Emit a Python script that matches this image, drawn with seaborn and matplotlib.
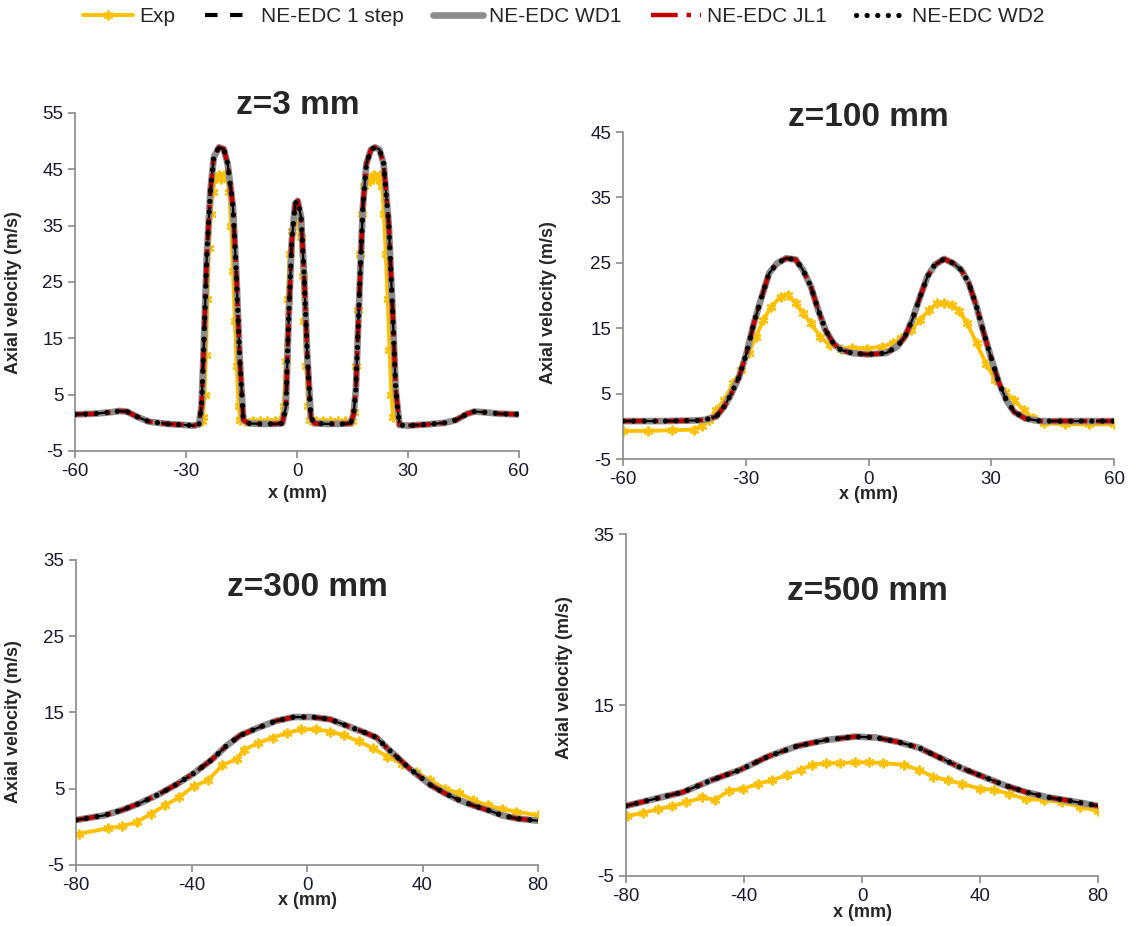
import numpy as np
import pandas as pd
import seaborn as sns
import matplotlib.pyplot as plt
from matplotlib.lines import Line2D

# ====================== данные ====================== #
# z = 3 mm
x3_sim = [-60, -55, -50, -48, -46, -43, -40, -35, -30, -28, -26.5, -25.8, -25.3, -24.4,
          -23.4, -22.5, -21.1, -19.8, -18.75, -17.3, -16.4, -15.5, -14.5, -13.1, -10, -6,
          -4, -3, -2.3, -1.4, -0.5, 0.2, 1.1, 1.9, 2.8, 3.75, 4.7, 8, 12, 14.5, 15.3, 15.9,
          16.9, 17.8, 18.75, 20, 21.1, 22.3, 23.4, 24.8, 25.8, 26.7, 27.7, 30, 35, 40, 43,
          46, 48, 50, 55, 60]
v3_sim = [1.5, 1.6, 1.9, 2.1, 2.0, 1.0, 0.2, -0.2, -0.4, -0.5, -0.3, 3.0, 11.7, 29.4,
          41.2, 47.1, 48.9, 48.6, 46.0, 38.3, 26.5, 11.7, 0.5, -0.1, -0.2, -0.2,
          -0.1, 2.8, 17.6, 32.4, 38.9, 39.4, 36.5, 26.5, 11.7, 1.0, -0.1, -0.2, -0.2, -0.1, 1.5, 5.8,
          23.5, 38.3, 46.0, 48.5, 48.9, 48.5, 46.0, 35.3, 20.5, 5.8, -0.4, -0.5, -0.3, 0.0, 0.5,
          1.6, 2.0, 1.9, 1.6, 1.5]
x3_exp = [-25.8, -25.4, -25.0, -24.6, -24.2, -23.8, -23.3, -22.8, -22.0, -21.2, -20.5,
          -19.7, -19.0, -18.3, -17.8, -17.3, -16.8, -16.3, -15.8, -15.3, -14.0, -12.0,
          -10.0, -8.0, -6.0, -4.5, -3.6, -3.0, -2.5, -2.0, -1.3, -0.5, 0.3, 1.0, 1.5, 2.0,
          2.5, 3.0, 3.6, 5.0, 7.0, 9.0, 11.0, 13.0, 14.8, 15.5, 16.0, 16.5, 17.0, 17.5,
          18.2, 19.0, 19.8, 20.7, 21.5, 22.3, 23.0, 23.5, 24.0, 24.5, 25.0, 25.5, 26.0]
v3_exp = [0.3, 1.0, 5.0, 12.0, 22.0, 31.0, 37.0, 41.0, 43.5, 44.0, 43.2,
          44.0, 43.5, 41.0, 35.0, 27.0, 18.0, 10.0, 3.0, 0.5, 0.3, 0.3,
          0.3, 0.3, 0.3, 0.4, 3.0, 11.0, 22.0, 30.0, 34.0, 36.0, 35.5, 33.0, 26.0, 18.0,
          10.0, 3.0, 0.5, 0.3, 0.3, 0.3, 0.3, 0.3, 0.4, 2.0, 10.0, 20.0, 30.0, 37.0,
          42.0, 43.8, 43.0, 44.0, 43.3, 44.0, 42.0, 37.0, 30.0, 22.0, 13.0, 5.0, 1.0]

# z = 100 mm
x100_sim = [-60, -50, -42, -40, -37.2, -35.3, -33.5, -31.6, -29.8, -28, -26.1, -24.3, -22.4,
            -20.1, -17.8, -16, -14.1, -12.3, -10.5, -8.6, -6.8, -4, -0.3, 4.3, 7, 8.9, 10.7,
            12.6, 14.4, 16.2, 18.5, 20.8, 22.7, 24.5, 26.4, 28.2, 30.1, 31.9, 33.7, 35.6,
            38.3, 42, 50, 60]
v100_sim = [0.8, 0.8, 0.9, 1.0, 1.5, 3.0, 5.0, 7.6, 11.2, 15.8, 19.8, 23.4, 24.9,
            25.7, 25.5, 23.9, 21.4, 17.8, 14.7, 12.7, 11.7, 11.2, 11.0, 11.2, 12.2, 13.7, 16.3,
            19.8, 22.9, 24.7, 25.6, 24.9, 23.9, 21.9, 18.3, 14.2, 10.2, 6.6, 4.0, 2.2,
            1.2, 0.8, 0.8, 0.8]
x100_exp = [-60, -54, -48, -42.7, -40.8, -39, -37.2, -35.3, -33, -31.2, -29.3, -27.5, -25.7,
            -23.8, -21.5, -19.7, -17.8, -16, -14.1, -11.8, -9.5, -6.8, -4, -0.3, 3.4, 6.1,
            8, 10.3, 12.6, 14.9, 16.7, 18.5, 20.4, 22.2, 24.1, 26.4, 28.7, 31, 33.3, 35.6,
            37.9, 40.2, 43, 48, 54, 60]
v100_exp = [-0.7, -0.7, -0.6, -0.5, 0.0, 1.0, 2.5, 4.0, 6.6, 8.6, 11.2, 13.7, 16.3,
            18.3, 19.8, 20.1, 18.8, 17.3, 15.8, 13.7, 12.4, 11.9, 12.0, 11.9, 12.2, 12.7,
            13.5, 14.7, 16.3, 17.8, 18.8, 18.9, 18.6, 17.6, 15.8, 12.7, 9.6, 7.1, 5.3, 4.0,
            2.5, 1.2, 0.5, 0.3, 0.3, 0.3]

# z = 300 mm
x300_sim = [-80, -70.3, -64, -57.9, -51.7, -45.5, -39.3, -33, -28, -23.1, -16.9, -10.7, -4.5,
            1.7, 7.95, 14.2, 20.4, 24.1, 27.8, 31.6, 35.3, 39, 42.7, 47.7, 52.7, 57.6, 62.6,
            67.6, 72.5, 80]
v300_sim = [0.9, 1.5, 2.2, 3.1, 4.2, 5.5, 7.0, 8.8, 10.6, 12.0, 13.0, 13.9, 14.4,
            14.4, 14.1, 13.2, 12.3, 11.7, 10.3, 9.0, 7.7, 6.6, 5.5, 4.4, 3.5, 2.8, 2.2,
            1.5, 1.1, 0.8]
x300_exp = [-79, -69, -64, -59, -54.2, -49.2, -44.2, -39.3, -34.3, -29.3, -24.3, -21.9, -16.9,
            -11.9, -7, -2, 3, 8, 12.9, 17.9, 22.9, 27.8, 32.8, 37.8, 42.7, 47.7, 52.7, 57.6,
            62.6, 67.6, 72.5, 80]
v300_exp = [-0.9, -0.2, 0.1, 0.6, 1.7, 2.8, 3.9, 5.3, 6.1, 8.1, 8.9, 10.1, 11.0,
            11.7, 12.3, 12.8, 12.8, 12.5, 12.0, 11.2, 10.3, 9.2, 8.3, 7.2, 6.1, 5.0, 4.4, 3.5,
            2.8, 2.3, 2.0, 1.5]

# z = 500 mm
x500_sim = [-80, -70.5, -60.8, -51.1, -41.4, -31.7, -22, -12.3, -2.5, 4.7, 12, 19.3, 26.6,
            33.9, 41.2, 48.4, 55.7, 63, 70.3, 80]
v500_sim = [3.2, 4.0, 4.8, 6.2, 7.4, 9.0, 10.2, 10.9, 11.3, 11.2, 10.7, 10.0, 8.8,
            7.6, 6.6, 5.6, 4.8, 4.2, 3.8, 3.2]
x500_exp = [-79.6, -74.2, -69.3, -64.5, -59.6, -54.1, -49.9, -45, -40.2, -35.3, -30.5, -25.6,
            -20.8, -17.1, -12.3, -7.4, -2.5, 2.3, 7.2, 14.4, 19.3, 24.2, 29, 33.9, 39.9,
            44.8, 49.7, 55.7, 61.8, 67.9, 74, 80]
v500_exp = [2.0, 2.4, 2.8, 3.2, 3.6, 4.2, 3.9, 5.0, 5.2, 5.8, 6.2, 6.8,
            7.4, 8.0, 8.2, 8.2, 8.3, 8.3, 8.2, 8.0, 7.4, 6.6, 6.2, 5.8, 5.2,
            5.1, 4.6, 4.0, 3.9, 3.6, 3.1, 2.6]

titles = ['z=3 mm', 'z=100 mm', 'z=300 mm', 'z=500 mm']
model_names = ['Exp', 'NE-EDC 1 step', 'NE-EDC WD1', 'NE-EDC JL1', 'NE-EDC WD2']

# ============================ оформление ============================== #
sns.set_style('white')
plt.rcParams['font.family'] = ['Liberation Sans', 'DejaVu Sans']
plt.rcParams['axes.unicode_minus'] = False

fig = plt.figure(figsize=(11.28, 9.26), dpi=100)

# положение панелей (как на картинке)
boxes = [[0.0665, 0.5130, 0.3936, 0.3650],
         [0.5523, 0.5043, 0.4353, 0.3531],
         [0.0674, 0.0659, 0.4096, 0.3294],
         [0.5550, 0.0540, 0.4184, 0.3693]]
xlims = [(-60, 60), (-60, 60), (-80, 80), (-80, 80)]
xticks = [np.arange(-60, 61, 30), np.arange(-60, 61, 30), np.arange(-80, 81, 40), np.arange(-80, 81, 40)]
ylims = [(-5, 55), (-5, 45), (-5, 35), (-5, 35)]
yticks = [np.arange(-5, 56, 10), np.arange(-5, 46, 10), np.arange(-5, 36, 10), np.arange(-5, 36, 20)]
title_pos = [(298, 105), (868, 118), (307, 588), (867, 592)]
ylab = [(-0.119, 0.47), (-0.134, 0.48), (-0.117, 0.47), (-0.112, 0.58)]
xlab_y = [-0.10, -0.083, -0.089, -0.082]

data = [(x3_sim, v3_sim, x3_exp, v3_exp),
        (x100_sim, v100_sim, x100_exp, v100_exp),
        (x300_sim, v300_sim, x300_exp, v300_exp),
        (x500_sim, v500_sim, x500_exp, v500_exp)]

GOLD = '#FFC000'
GRAY = '#8C8C8C'
RED = '#C00000'
AX_GRAY = '#8A8A8A'
exp_marker = (6, 2, 0)
dots = (0, (0.01, 2.0))

for i in range(4):
    ax = fig.add_axes(boxes[i])
    xs, vs, xe, ve = data[i]
    sim = pd.DataFrame({'x': xs, 'v': vs})
    exp = pd.DataFrame({'x': xe, 'v': ve})

    sns.lineplot(data=exp, x='x', y='v', ax=ax, color=GOLD, linewidth=2.8,
                 marker=exp_marker, markersize=7, markeredgewidth=1.6,
                 markeredgecolor=GOLD, estimator=None, sort=False, zorder=2)
    sns.lineplot(data=sim, x='x', y='v', ax=ax, color=GRAY, linewidth=4.8,
                 estimator=None, sort=False, zorder=3)
    sns.lineplot(data=sim, x='x', y='v', ax=ax, color=RED, linewidth=3.2,
                 linestyle=(0, (5, 2, 1, 2)), estimator=None, sort=False, zorder=4)
    sns.lineplot(data=sim, x='x', y='v', ax=ax, color='black', linewidth=1.6,
                 linestyle=(0, (5, 5)), estimator=None, sort=False, zorder=5)
    sns.lineplot(data=sim, x='x', y='v', ax=ax, color='black', linewidth=3.8,
                 linestyle=dots, dash_capstyle='round',
                 estimator=None, sort=False, zorder=6)

    ax.set_xlim(*xlims[i])
    ax.set_ylim(*ylims[i])
    ax.set_xticks(xticks[i])
    ax.set_yticks(yticks[i])
    for s in ['top', 'right']:
        ax.spines[s].set_visible(False)
    for s in ['left', 'bottom']:
        ax.spines[s].set_color(AX_GRAY)
        ax.spines[s].set_linewidth(1.2)
    ax.tick_params(axis='both', direction='out', length=5, width=1.2, color=AX_GRAY,
                   labelsize=13.5, labelcolor='#1a1a2e', left=True, bottom=True)
    ax.set_xlabel('x (mm)', fontsize=13, fontweight='bold')
    ax.set_ylabel('Axial velocity (m/s)', fontsize=13, fontweight='bold')
    ax.xaxis.set_label_coords(0.5, xlab_y[i])
    ax.yaxis.set_label_coords(*ylab[i])
    ax.patch.set_alpha(0)

    tx, ty = title_pos[i]
    fig.text(tx / 1128, 1 - ty / 926, titles[i], ha='center', va='center',
             fontsize=24, fontweight='bold')

# =============================== легенда ============================== #
handles = [
    Line2D([], [], color=GOLD, linewidth=2.8, marker=exp_marker, markersize=7,
           markeredgewidth=1.6, markeredgecolor=GOLD),
    Line2D([], [], color='black', linewidth=3, linestyle=(0, (3, 3))),
    Line2D([], [], color=GRAY, linewidth=4.8),
    Line2D([], [], color=RED, linewidth=3.2, linestyle=(0, (6, 2, 1, 2))),
    Line2D([], [], color='black', linewidth=3.8, linestyle=dots, dash_capstyle='round'),
]
fig.legend(handles, model_names, loc='center', bbox_to_anchor=(0.5, 1 - 17 / 926),
           ncol=5, frameon=False, fontsize=15, handlelength=2.4, handletextpad=0.3,
           columnspacing=1.4)

fig.savefig('out.png', dpi=100)
